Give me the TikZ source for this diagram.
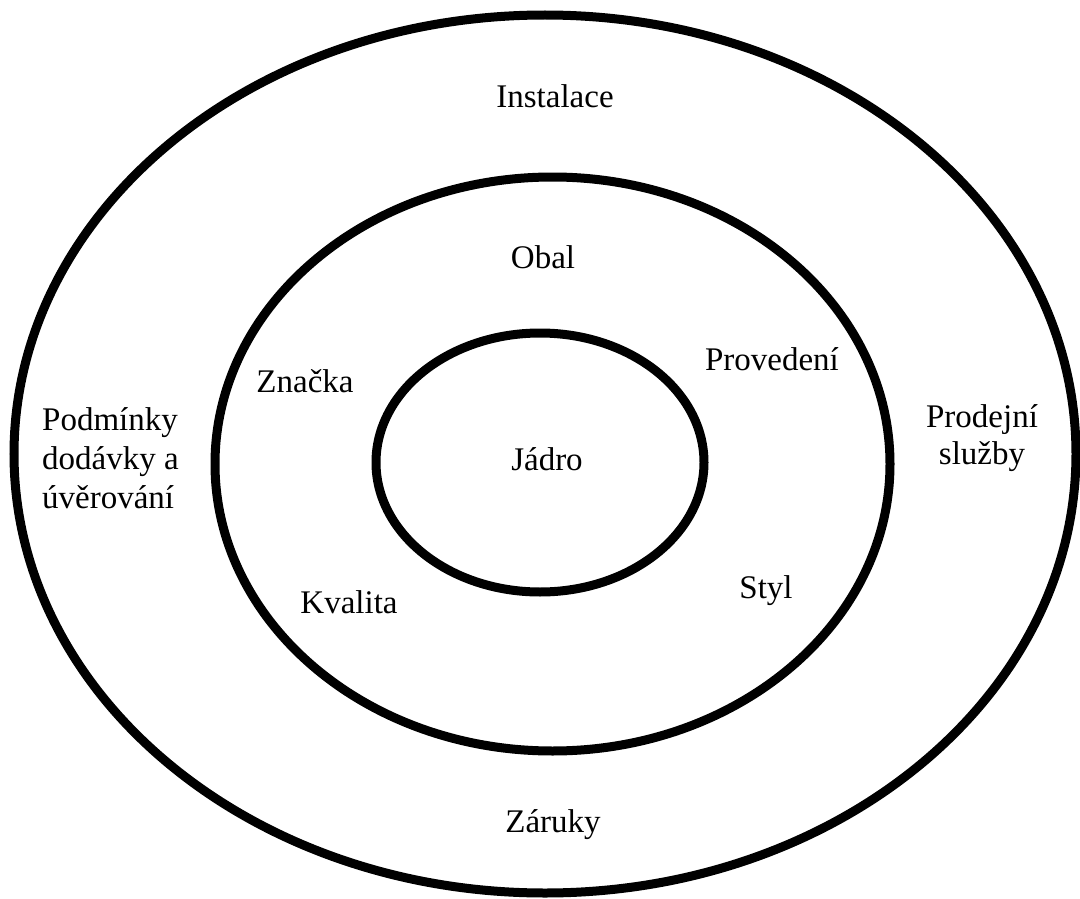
\documentclass[tikz,border=0pt]{standalone}
\usepackage{fontspec}
\setmainfont{Liberation Serif}
\begin{document}
\begin{tikzpicture}[x=1pt,y=-1pt,
  ring/.style={draw=black,line width=9pt},
  lbl/.style={font=\fontsize{33}{39}\selectfont,inner sep=0pt,anchor=base}]
\useasboundingbox (0,0) rectangle (1080,899);
\draw[ring] (545,454) ellipse [x radius=531, y radius=439];
\draw[ring] (552.5,464) ellipse [x radius=337.5, y radius=287];
\draw[ring] (540,462.5) ellipse [x radius=164, y radius=129.5];
\node[lbl] (instalace) at (555,107) {Instalace};
\node[lbl] (obal) at (543,268) {Obal};
\node[lbl] (znacka) at (305,392) {Značka};
\node[lbl] (provedeni) at (772,370) {Provedení};
\node[lbl] (jadro) at (547,470) {Jádro};
\node[lbl] (styl) at (766,598) {Styl};
\node[lbl] (kvalita) at (349,613) {Kvalita};
\node[lbl] (zaruky) at (553,832) {Záruky};
\node[lbl,anchor=base west,align=left] (podminky) at (42,508) {Podmínky\\dodávky a\\úvěrování};
\node[lbl,align=center,font=\fontsize{33}{37}\selectfont] (prodejni) at (982,464) {Prodejní\\služby};
\end{tikzpicture}
\end{document}
